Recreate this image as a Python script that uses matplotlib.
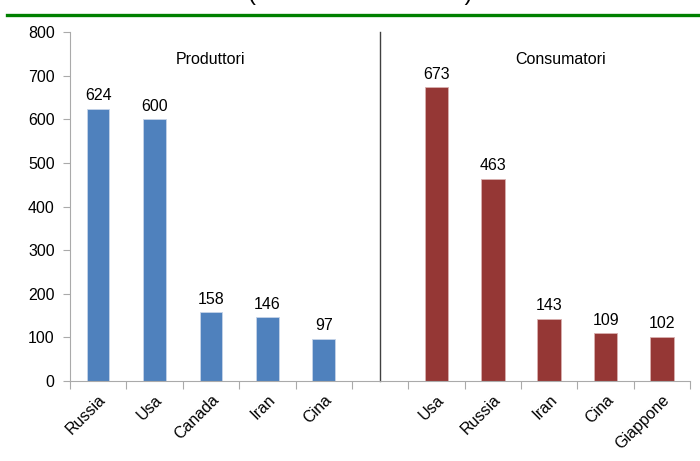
import matplotlib.pyplot as plt
from matplotlib.lines import Line2D

plt.rcParams['font.family'] = ['Liberation Sans', 'DejaVu Sans']

# produttori e consumatori principali
produttori = ['Russia', 'Usa', 'Canada', 'Iran', 'Cina']
valoriProd = [624, 600, 158, 146, 97]
consumatori = ['Usa', 'Russia', 'Iran', 'Cina', 'Giappone']
valoriCons = [673, 463, 143, 109, 102]

colProd = '#4F81BD'
colCons = '#953735'
fs = 11.5

fig = plt.figure(figsize=(7, 4.61), dpi=100)
ax = fig.add_axes([0.1, 0.1735, 0.886, 0.757])

xsProd = list(range(len(produttori)))
xsCons = [len(produttori) + 1 + i for i in range(len(consumatori))]

ax.bar(xsProd, valoriProd, width=0.4, color=colProd, edgecolor='#c6d4e8', linewidth=0.6)
ax.bar(xsCons, valoriCons, width=0.42, color=colCons, edgecolor='#d9b0af', linewidth=0.6)

i = 0
while i < len(valoriProd):
    ax.annotate(str(valoriProd[i]), (xsProd[i], valoriProd[i]), xytext=(0, 4),
                textcoords='offset points', ha='center', va='bottom', fontsize=fs)
    i = i + 1
i = 0
while i < len(valoriCons):
    ax.annotate(str(valoriCons[i]), (xsCons[i], valoriCons[i]), xytext=(0, 4),
                textcoords='offset points', ha='center', va='bottom', fontsize=fs)
    i = i + 1

n = len(produttori) + 1 + len(consumatori)
ax.set_xlim(-0.5, n - 0.5)
ax.set_ylim(0, 800)
ax.set_yticks(range(0, 801, 100))
ax.tick_params(axis='y', labelsize=fs, length=5, color='#aaaaaa', pad=6)

# tick sui confini delle categorie, etichette al centro
ax.set_xticks([k - 0.5 for k in range(n + 1)])
ax.set_xticks(xsProd + xsCons, minor=True)
ax.set_xticklabels([])
ax.set_xticklabels(produttori + consumatori, minor=True, rotation=45,
                   ha='right', rotation_mode='anchor', fontsize=fs)
ax.tick_params(axis='x', which='major', length=6, color='#aaaaaa')
ax.tick_params(axis='x', which='minor', length=0, pad=8)

for s in ['top', 'right']:
    ax.spines[s].set_visible(False)
ax.spines['left'].set_color('#aaaaaa')
ax.spines['bottom'].set_color('#aaaaaa')

# separatore tra i due gruppi
ax.plot([len(produttori), len(produttori)], [0, 800], color='#404040', linewidth=1.0, clip_on=False)

ax.text(2.0, 736, 'Produttori', ha='center', va='center', fontsize=fs)
ax.text(8.2, 736, 'Consumatori', ha='center', va='center', fontsize=fs)

# titolo (tagliato dal bordo) e linea verde in alto
fig.text(0.514, 1.0, '(Miliardi di m³ - 2010)', ha='center', va='baseline', fontsize=17)
fig.add_artist(Line2D([0.01, 1.0], [1 - 15.5 / 461, 1 - 15.5 / 461], color='#008000',
                      linewidth=2.4, transform=fig.transFigure))

fig.savefig('out.png', dpi=100)
plt.close()
